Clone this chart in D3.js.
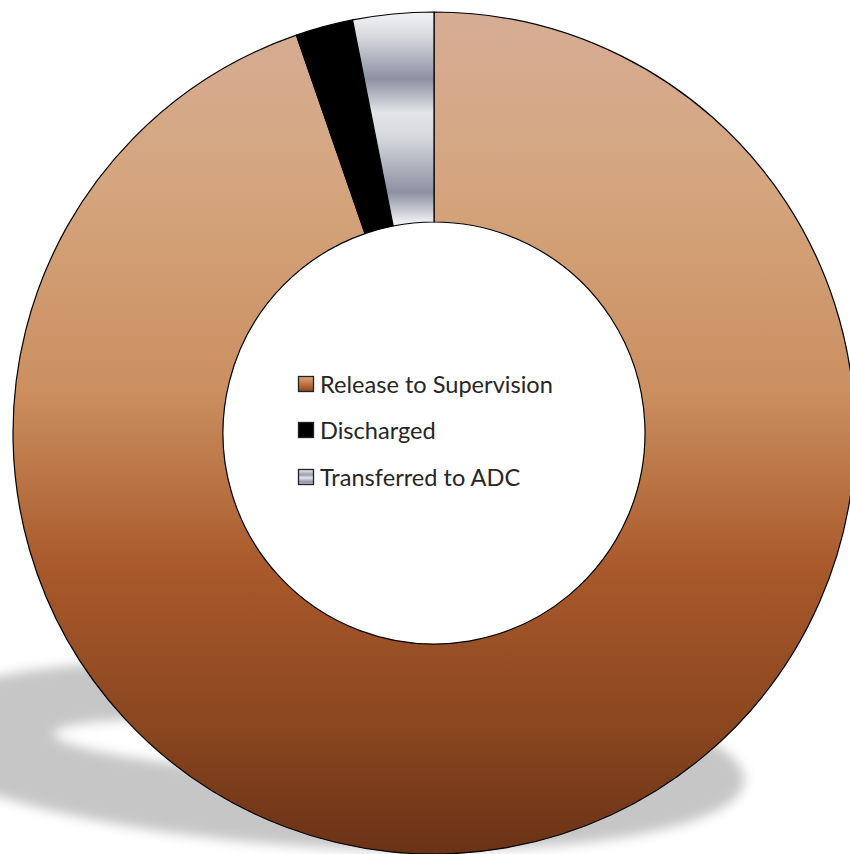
<!DOCTYPE html>
<html><head><meta charset="utf-8">
<script src="https://cdn.jsdelivr.net/npm/d3@7"></script>
<style>html,body{margin:0;padding:0;background:#fff;overflow:hidden}</style>
</head><body>
<svg id="chart" width="850" height="854"></svg>
<script>
const categories = ["Release to Supervision", "Discharged", "Transferred to ADC"];
const values = [94.7, 2.2, 3.1];
const fills = ["url(#gBrown)", "#000000", "url(#gSilver)"];
const legendFills = ["url(#gBrownSm)", "#000000", "url(#gSilverSm)"];

const svg = d3.select("#chart");
const cx = 434, cy = 433, rOuter = 421, rInner = 211;
const defs = svg.append("defs");

function lin(id, stops, x1, y1, x2, y2, units) {
  const g = defs.append("linearGradient").attr("id", id)
    .attr("x1", x1).attr("y1", y1).attr("x2", x2).attr("y2", y2);
  if (units) g.attr("gradientUnits", units);
  stops.forEach(s => g.append("stop").attr("offset", s[0]).attr("stop-color", s[1]));
}
const brownStops = [[0, "#d6ad95"], [0.22, "#d4a47c"], [0.45, "#cb8f60"], [0.66, "#a9592b"], [0.85, "#8a461f"], [1, "#6a3216"]];
// gradients used inside the translated group: local coordinates
lin("gBrown", brownStops, 0, -rOuter, 0, rOuter, "userSpaceOnUse");
lin("gBrownSm", [[0, "#e0a57a"], [0.6, "#b86a38"], [1, "#8a461f"]], 0, 0, 0, 1);
const silverStops = [[0, "#f3f3f5"], [0.12, "#d6d8dd"], [0.32, "#8c91a2"], [0.48, "#e3e5e8"], [0.6, "#d5d7dc"], [0.86, "#8c91a2"], [1, "#eeeff1"]];
lin("gSilver", silverStops, 0, -rOuter, 0, -rInner, "userSpaceOnUse");
lin("gSilverSm", [[0, "#f0f0f2"], [0.35, "#9a9fae"], [0.55, "#e3e5e8"], [0.85, "#8c91a2"], [1, "#e8e9ec"]], 0, 0, 0, 1);

const blur = defs.append("filter").attr("id", "blur").attr("x", "-20%").attr("y", "-50%").attr("width", "140%").attr("height", "200%");
blur.append("feGaussianBlur").attr("stdDeviation", 6);

// floor shadow (elliptical ring)
const sh = svg.append("g").attr("filter", "url(#blur)");
const shOuter = {cx: 320, cy: 755, rx: 425, ry: 92}, shInner = {cx: 325, cy: 750, rx: 272, ry: 27};
function ellipsePath(e) {
  return `M${e.cx - e.rx},${e.cy}a${e.rx},${e.ry} 0 1,0 ${2 * e.rx},0a${e.rx},${e.ry} 0 1,0 ${-2 * e.rx},0Z`;
}
sh.append("path")
  .attr("d", ellipsePath(shOuter) + ellipsePath(shInner))
  .attr("fill-rule", "evenodd")
  .attr("fill", "#c6c6c6")
  .attr("transform", "rotate(3.5 320 755)");

const pie = d3.pie().sort(null).value(d => d);
const arc = d3.arc().innerRadius(rInner).outerRadius(rOuter);
const g = svg.append("g").attr("transform", `translate(${cx},${cy})`);
g.selectAll("path.slice").data(pie(values)).join("path")
  .attr("class", "slice")
  .attr("d", arc)
  .attr("fill", (d, i) => fills[i])
  .attr("stroke", "#000")
  .attr("stroke-width", 1.2)
  .attr("stroke-linejoin", "round");

// legend
const leg = svg.append("g");
const rows = [384, 430, 477];
const items = leg.selectAll("g").data(categories).join("g")
  .attr("transform", (d, i) => `translate(298,${rows[i]})`);
items.append("rect").attr("x", 0.5).attr("y", -7.5).attr("width", 15).attr("height", 15)
  .attr("fill", (d, i) => legendFills[i]).attr("stroke", "#222").attr("stroke-width", 1.3);
const texts = items.append("text").attr("x", 22).attr("y", 0).attr("dy", "0.36em")
  .attr("font-family", "Lato, 'Open Sans', sans-serif").attr("font-size", 21)
  .attr("fill", "#262626").text(d => d);
const w = texts.node().getComputedTextLength();
const fs = 21 * 233 / w;
texts.attr("font-size", fs);
</script>
</body></html>
